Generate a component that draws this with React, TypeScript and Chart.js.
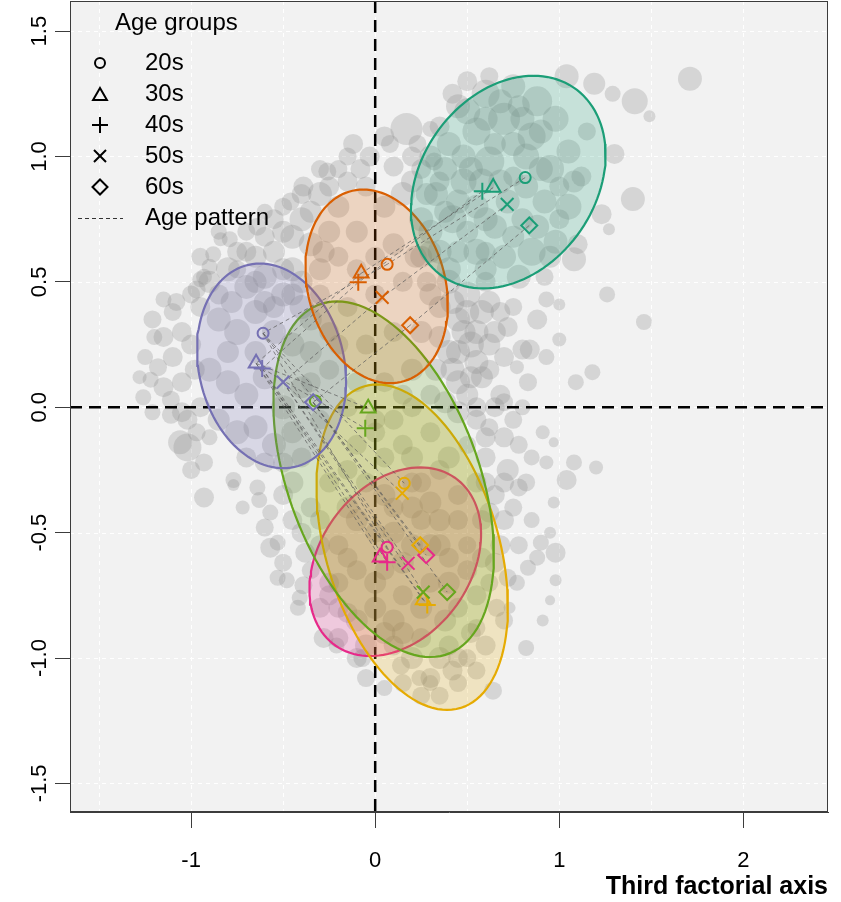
import React, { useEffect, useRef } from 'react';
import { Chart, registerables } from 'chart.js';

Chart.register(...registerables);

const FONT = "'Liberation Sans', Arial, Helvetica, sans-serif";

// ---- axes ----
const xMin = -1.658;
const xMax = 2.46;
const yMin = -1.614;
const yMax = 1.62;
const xTickStep = 1;
const yTickStep = 0.5;
const gridX = [-1.5, -1, -0.5, 0, 0.5, 1, 1.5, 2];
const gridY = [-1.5, -1, -0.5, 0, 0.5, 1, 1.5];
const xTitle = 'Third factorial axis';

// ---- legend / age groups ----
const legendTitle = 'Age groups';
const ageLabels = ['20s', '30s', '40s', '50s', '60s'];
const ageStyles = ['circle', 'triangle', 'cross', 'crossRot', 'rectRot'];
const ageRadii = [5.5, 8.5, 8.5, 9, 8];
const patternLabel = 'Age pattern';

// ---- groups (teal, orange, purple, green, yellow, pink) ----
const groupColors = ['#1b9e77', '#d95f02', '#7570b3', '#66a61e', '#e6ab02', '#e7298a'];

// age-group centroids (20s, 30s, 40s, 50s, 60s)
const tealX = [0.815, 0.641, 0.582, 0.717, 0.837];
const tealY = [0.916, 0.876, 0.861, 0.809, 0.725];
const orangeX = [0.065, -0.076, -0.092, 0.038, 0.19];
const orangeY = [0.57, 0.534, 0.498, 0.438, 0.327];
const purpleX = [-0.609, -0.647, -0.614, -0.5, -0.337];
const purpleY = [0.295, 0.175, 0.155, 0.1, 0.02];
const greenX = [-0.325, -0.038, -0.054, 0.261, 0.391];
const greenY = [0.025, -0.004, -0.084, -0.737, -0.737];
const yellowX = [0.158, 0.261, 0.283, 0.147, 0.245];
const yellowY = [-0.303, -0.769, -0.789, -0.343, -0.55];
const pinkX = [0.065, 0.027, 0.065, 0.179, 0.277];
const pinkY = [-0.558, -0.598, -0.618, -0.622, -0.59];

const groupXs = [tealX, orangeX, purpleX, greenX, yellowX, pinkX];
const groupYs = [tealY, orangeY, purpleY, greenY, yellowY, pinkY];

// confidence ellipses: centre, top-point offset, horizontal half-chord (data units)
const ellCX = [0.723, 0.008, -0.563, 0.046, 0.201, 0.109];
const ellCY = [0.898, 0.482, 0.165, -0.287, -0.558, -0.616];
const ellUX = [0.136, -0.073, -0.063, -0.253, -0.19, 0.136];
const ellUY = [0.424, 0.386, 0.408, 0.709, 0.649, 0.376];
const ellHW = [0.511, 0.38, 0.4, 0.543, 0.484, 0.446];

// age-pattern links between groups (same age)
const ageLinks = [
  [0, 1],
  [1, 2],
  [2, 3],
  [2, 4],
  [2, 5],
];

// background individuals: [x, y, radius px]
const cloud: [number, number, number][] = [
  // upper-right cluster
  [0.45, 1.2, 12], [0.6, 1.25, 14], [0.75, 1.28, 12], [0.88, 1.22, 15], [0.98, 1.15, 13],
  [0.7, 1.15, 16], [0.55, 1.1, 14], [0.4, 1.05, 12], [0.85, 1.08, 14], [1.05, 1.02, 12],
  [1.12, 0.92, 10], [0.95, 0.95, 14], [0.62, 0.98, 15], [0.48, 0.9, 13], [0.33, 0.85, 12],
  [0.3, 0.7, 12], [0.42, 0.75, 14], [0.55, 0.8, 12], [0.75, 0.92, 10], [0.92, 0.82, 12],
  [1.05, 0.8, 13], [1.1, 0.65, 10], [0.98, 0.66, 12], [0.85, 0.62, 14], [0.7, 0.6, 12],
  [0.55, 0.62, 13], [0.4, 0.55, 12], [0.6, 0.5, 10], [0.78, 0.52, 12], [0.92, 0.52, 9],
  [0.25, 0.95, 10], [0.35, 1.12, 10], [0.22, 0.6, 11], [0.5, 1.3, 10], [1.15, 1.1, 9],
  [0.65, 0.72, 12], [0.8, 0.75, 11], [0.5, 0.7, 11], [0.38, 0.95, 12], [0.8, 1.15, 12],
  [0.65, 1.05, 11], [1.0, 0.88, 10], [0.28, 0.5, 10], [0.45, 0.62, 11],
  [0.5, 1.18, 13], [0.68, 1.22, 12], [0.82, 1.0, 13], [0.9, 1.1, 12], [0.58, 0.9, 13],
  [0.72, 0.82, 12], [0.88, 0.72, 12], [1.0, 0.75, 10], [0.35, 0.62, 12], [0.6, 0.62, 10],
  [0.48, 1.0, 12], [0.3, 1.0, 11], [0.95, 0.6, 11], [0.75, 0.68, 11], [1.08, 0.9, 11],
  [0.42, 1.25, 10], [0.62, 1.32, 9], [0.78, 1.2, 11],
  [0.52, 0.95, 12], [0.68, 0.9, 12], [0.82, 0.88, 12], [0.6, 0.75, 12], [0.45, 0.82, 12],
  [0.9, 0.95, 12], [0.75, 1.05, 12], [0.6, 1.15, 12], [0.28, 0.85, 11], [0.38, 0.78, 11],
  [0.2, 1.0, 10], [0.3, 0.62, 11],
  // upper-right outliers
  [1.04, 1.32, 12], [1.19, 1.29, 11], [1.29, 1.25, 8], [1.41, 1.22, 13], [1.49, 1.16, 6],
  [1.71, 1.31, 12], [1.3, 1.01, 10], [1.4, 0.83, 12], [1.23, 0.77, 10], [1.27, 0.71, 6],
  [1.08, 0.59, 12], [1.26, 0.45, 8], [1.46, 0.34, 8], [1.0, 0.41, 6], [0.84, 0.23, 10],
  [1.18, 0.14, 8], [1.09, 0.1, 8], [0.77, 0.16, 7],
  // between orange and teal
  [0.4, 0.5, 12], [0.5, 0.45, 13], [0.45, 0.35, 12], [0.58, 0.38, 12], [0.4, 0.22, 12],
  [0.52, 0.25, 13], [0.65, 0.3, 11], [0.45, 0.1, 12], [0.58, 0.12, 11], [0.7, 0.2, 10],
  [0.75, 0.4, 9], [0.88, 0.35, 10], [0.93, 0.2, 8], [0.83, 0.1, 9], [0.68, 0.05, 10],
  [0.93, 0.43, 8], [1.0, 0.27, 7], [0.8, 0.23, 10], [0.35, 0.4, 11], [0.33, 0.15, 11],
  [0.38, 0.02, 11], [0.55, 0.0, 10],
  [0.42, 0.42, 12], [0.48, 0.3, 12], [0.55, 0.18, 12], [0.62, 0.42, 11], [0.5, 0.05, 11],
  [0.62, 0.25, 11], [0.42, 0.15, 12], [0.72, 0.32, 10], [0.35, 0.28, 11], [0.45, -0.02, 11],
  [0.6, 0.55, 11], [0.5, 0.38, 12], [0.55, 0.3, 12], [0.45, 0.22, 12], [0.52, 0.12, 11],
  [0.62, 0.15, 10], [0.68, 0.38, 10],
  // upper-left band and around orange
  [0.17, 1.11, 16], [-0.12, 1.05, 10], [-0.26, 0.94, 9], [-0.39, 0.88, 10], [-0.46, 0.82, 9],
  [-0.64, 0.72, 9], [-0.79, 0.67, 8], [-0.88, 0.61, 8], [-0.93, 0.52, 8], [-0.97, 0.47, 9],
  [-0.03, 1.0, 10], [0.1, 0.96, 10], [0.23, 1.05, 9], [0.3, 1.11, 8], [-0.3, 0.85, 12],
  [-0.4, 0.75, 12], [-0.5, 0.7, 11], [-0.35, 0.65, 12], [-0.55, 0.62, 11], [-0.45, 0.55, 12],
  [-0.7, 0.62, 10], [-0.2, 0.8, 11], [-0.25, 0.7, 11], [-0.3, 0.55, 11], [-0.15, 0.9, 10],
  [0.15, 0.85, 12], [0.25, 0.75, 12], [0.2, 0.9, 11], [0.05, 0.8, 11], [-0.1, 0.7, 11],
  [0.1, 0.65, 11], [0.25, 0.6, 11], [0.3, 0.45, 11], [0.25, 0.3, 11], [0.2, 0.15, 11],
  [0.1, 0.3, 10], [-0.05, 0.25, 10], [-0.15, 0.4, 10], [0.0, 0.45, 10], [-0.1, 0.55, 10],
  [0.15, 0.5, 10], [0.3, 0.05, 10], [0.15, 0.05, 10], [-0.1, 0.1, 10], [0.35, 0.9, 10],
  [0.32, 0.98, 9], [-0.05, 0.88, 10], [0.0, 0.6, 10], [-0.2, 0.6, 10], [-0.2, 0.25, 10],
  [0.08, 1.05, 9], [-0.6, 0.78, 8], [-0.75, 0.55, 9],
  [-0.85, 0.45, 10], [-0.75, 0.62, 10], [-0.65, 0.6, 11], [-0.55, 0.75, 10], [-0.45, 0.68, 12],
  [-0.35, 0.78, 11], [-0.25, 0.88, 10], [-0.5, 0.55, 11], [-0.4, 0.5, 11], [-0.6, 0.42, 11],
  [-0.2, 0.95, 9], [-0.08, 0.95, 10], [0.05, 1.08, 10], [-0.35, 0.35, 11], [-0.28, 0.62, 11],
  [-0.95, 0.6, 9], [-0.85, 0.7, 8], [-0.7, 0.7, 9], [-0.6, 0.68, 10], [-0.5, 0.8, 9],
  [-0.4, 0.85, 10], [-0.3, 0.95, 9], [-0.15, 1.0, 9], [-0.65, 0.5, 11], [-0.55, 0.4, 11],
  [-0.45, 0.45, 11], [-0.78, 0.42, 11],
  // purple / left cluster
  [-0.9, 0.5, 11], [-0.8, 0.55, 12], [-0.7, 0.48, 12], [-0.6, 0.52, 12], [-0.5, 0.45, 12],
  [-0.4, 0.4, 12], [-0.85, 0.35, 12], [-0.75, 0.3, 13], [-0.65, 0.38, 12], [-0.55, 0.3, 12],
  [-0.45, 0.25, 12], [-0.35, 0.22, 11], [-0.9, 0.15, 12], [-0.8, 0.1, 12], [-0.7, 0.05, 12],
  [-0.6, 0.12, 12], [-0.5, 0.0, 12], [-0.4, 0.08, 11], [-0.85, -0.05, 11], [-0.75, -0.1, 12],
  [-0.65, -0.08, 12], [-0.55, -0.15, 12], [-0.45, -0.1, 11], [-0.3, -0.05, 10], [-0.7, -0.2, 10],
  [-0.6, -0.22, 10], [-0.25, 0.3, 10], [-0.3, 0.45, 10], [-1.0, 0.25, 10], [-1.05, 0.1, 10],
  [-0.95, 0.0, 10], [-1.1, 0.38, 9], [-0.95, 0.4, 10], [-1.15, 0.43, 8], [-1.21, 0.35, 9],
  [-1.15, 0.28, 10], [-1.18, 0.16, 9], [-1.22, 0.11, 8], [-1.26, 0.04, 8], [-1.21, -0.02, 8],
  [-1.11, 0.03, 9], [-0.84, 0.67, 7], [-0.9, 0.56, 8], [-0.95, 0.51, 8], [-0.65, 0.22, 11],
  [-0.8, 0.22, 11], [-0.35, 0.1, 10], [-0.25, 0.15, 10],
  [-1.05, 0.3, 10], [-1.1, 0.2, 10], [-1.15, 0.08, 10], [-1.05, -0.02, 10], [-1.0, 0.45, 9],
  [-1.08, 0.42, 9], [-1.25, 0.2, 8], [-0.98, 0.15, 10], [-1.0, -0.25, 9], [-1.2, 0.28, 8],
  [-1.28, 0.12, 7],
  // lower-left band
  [-1.11, -0.03, 9], [-1.02, -0.16, 14], [-0.9, -0.12, 8], [-0.93, -0.36, 10], [-0.77, -0.31, 6],
  [-0.72, -0.4, 7], [-0.64, -0.32, 8], [-0.57, -0.42, 8], [-0.53, -0.54, 8], [-0.5, -0.62, 9],
  [-0.53, -0.68, 8], [-0.42, -0.8, 8], [-0.39, -0.71, 9], [-0.28, -0.92, 10], [-0.21, -0.95, 8],
  [-0.07, -1.0, 9], [0.14, -1.03, 9], [0.24, -1.08, 8], [0.3, -1.1, 8], [-0.57, -0.56, 10],
  [-0.48, -0.69, 8], [-0.41, -0.76, 8], [-0.63, -0.37, 8], [-0.77, -0.29, 8], [-0.93, -0.22, 9],
  [-0.97, -0.1, 9], [-1.06, -0.14, 12], [-1.02, -0.05, 10], [-0.45, -0.3, 11], [-0.35, -0.4, 10],
  [-0.4, -0.5, 10], [-0.3, -0.55, 10], [-0.35, -0.65, 9], [-0.25, -0.7, 10], [-0.5, -0.22, 10],
  [-0.4, -0.2, 10],
  [-0.45, -0.45, 10], [-0.38, -0.58, 10], [-0.3, -0.8, 10], [-0.2, -0.8, 10], [-0.5, -0.35, 10],
  [-0.6, -0.48, 9],
  // lower cluster
  [-0.25, -0.3, 10], [-0.15, -0.4, 11], [-0.05, -0.3, 10], [0.05, -0.2, 10], [0.15, -0.15, 10],
  [0.3, -0.1, 10], [0.4, -0.2, 11], [0.25, -0.3, 10], [0.45, -0.35, 10], [0.35, -0.45, 11],
  [-0.2, -0.55, 10], [-0.1, -0.65, 10], [0.0, -0.5, 10], [0.1, -0.4, 10], [0.2, -0.55, 11],
  [0.4, -0.6, 10], [0.5, -0.55, 9], [0.3, -0.7, 10], [0.45, -0.8, 10], [0.15, -0.75, 10],
  [0.0, -0.8, 11], [-0.15, -0.82, 10], [-0.25, -0.75, 10], [-0.2, -0.92, 10], [-0.05, -0.95, 11],
  [0.1, -0.95, 10], [0.25, -0.92, 10], [0.4, -0.95, 10], [0.5, -1.0, 9], [0.3, -1.08, 10],
  [0.15, -1.1, 9], [0.45, -1.1, 9], [0.35, -0.25, 10], [0.5, -0.15, 9], [-0.3, -0.45, 10],
  [0.55, -0.75, 10], [0.55, -0.88, 9], [-0.1, -0.15, 10], [0.1, -0.05, 10], [0.2, -0.3, 10],
  [0.05, -0.65, 10], [0.25, -0.45, 10], [-0.05, -1.08, 9], [0.05, -1.12, 8], [0.35, -1.15, 9],
  [0.42, -1.05, 10],
  [-0.1, -0.45, 11], [0.05, -0.35, 11], [0.2, -0.2, 11], [0.3, -0.38, 11], [0.15, -0.62, 11],
  [0.35, -0.55, 11], [0.25, -0.8, 11], [0.4, -0.7, 11], [0.05, -0.9, 11], [-0.1, -0.85, 11],
  [0.2, -1.0, 11], [0.35, -1.0, 11], [0.45, -0.45, 10], [-0.2, -0.7, 10], [-0.1, -1.0, 10],
  [0.1, -0.85, 11], [0.5, -0.65, 10], [0.52, -0.9, 10], [0.25, -1.15, 9], [-0.15, -0.25, 10],
  [0.0, -0.1, 10], [0.05, 0.1, 10], [0.2, 0.0, 10], [-0.15, 0.0, 10], [0.0, -0.05, 10],
  [0.0, -0.7, 11], [-0.15, -0.6, 10], [0.3, -0.55, 11], [0.1, -0.5, 11], [0.2, -0.4, 11],
  [0.45, -1.0, 10], [0.38, -0.85, 11], [0.15, -0.9, 11],
  // right of the lower cluster
  [0.91, -0.1, 7], [1.08, -0.22, 8], [1.2, -0.24, 7], [1.04, -0.29, 10], [0.97, -0.38, 6],
  [0.93, -0.22, 7], [0.97, -0.14, 5], [0.95, -0.5, 6], [0.9, -0.54, 8], [0.98, -0.58, 10],
  [0.98, -0.69, 6], [0.95, -0.77, 5], [0.91, -0.85, 6], [0.82, -0.96, 8], [0.64, -1.13, 9],
  [0.83, -0.64, 8], [0.77, -0.7, 8], [0.73, -0.8, 6], [0.55, -0.05, 10], [0.62, -0.08, 9],
  [0.7, -0.12, 10], [0.78, -0.15, 9], [0.6, -0.2, 10], [0.72, -0.25, 11], [0.82, -0.3, 9],
  [0.65, -0.35, 10], [0.75, -0.4, 9], [0.85, -0.45, 8], [0.58, -0.45, 10], [0.68, -0.55, 10],
  [0.62, -0.7, 9], [0.7, -0.85, 9], [0.6, -0.95, 10], [0.55, -1.05, 9], [0.85, -0.2, 8],
  [0.8, 0.0, 8], [0.7, 0.02, 9],
  [0.6, -0.3, 10], [0.7, -0.45, 10], [0.78, -0.55, 9], [0.65, -0.62, 10], [0.72, -0.68, 9],
  [0.65, 0.0, 10], [0.78, -0.32, 9], [0.6, -0.12, 10], [0.55, -0.3, 10], [0.88, -0.6, 8],
  [0.62, -0.42, 10], [0.7, -0.3, 10], [0.75, -0.05, 9], [0.58, -0.6, 10], [0.66, -0.8, 9],
];

function hexToRgba(hex: string, a: number) {
  const n = parseInt(hex.slice(1), 16);
  return `rgba(${(n >> 16) & 255},${(n >> 8) & 255},${n & 255},${a})`;
}

function ellipsePoints(i: number) {
  const pts: { x: number; y: number }[] = [];
  const steps = 120;
  for (let k = 0; k <= steps; k++) {
    const t = (2 * Math.PI * k) / steps;
    pts.push({
      x: ellCX[i] + ellUX[i] * Math.cos(t) + ellHW[i] * Math.sin(t),
      y: ellCY[i] + ellUY[i] * Math.cos(t),
    });
  }
  return pts;
}

function drawSymbol(ctx: CanvasRenderingContext2D, style: string, x: number, y: number, r: number) {
  ctx.beginPath();
  if (style === 'circle') {
    ctx.arc(x, y, r, 0, Math.PI * 2);
  } else if (style === 'triangle') {
    ctx.moveTo(x, y - r);
    ctx.lineTo(x + r * 0.866, y + r * 0.5);
    ctx.lineTo(x - r * 0.866, y + r * 0.5);
    ctx.closePath();
  } else if (style === 'cross') {
    ctx.moveTo(x - r, y);
    ctx.lineTo(x + r, y);
    ctx.moveTo(x, y - r);
    ctx.lineTo(x, y + r);
  } else if (style === 'crossRot') {
    const d = r * 0.7071;
    ctx.moveTo(x - d, y - d);
    ctx.lineTo(x + d, y + d);
    ctx.moveTo(x + d, y - d);
    ctx.lineTo(x - d, y + d);
  } else if (style === 'rectRot') {
    ctx.moveTo(x, y - r);
    ctx.lineTo(x + r, y);
    ctx.lineTo(x, y + r);
    ctx.lineTo(x - r, y);
    ctx.closePath();
  }
  ctx.stroke();
}

const CLOUD_INDEX = 0;

const backgroundPlugin = {
  id: 'rBackground',
  beforeDatasetsDraw(chart: any) {
    const { ctx, chartArea: a, scales } = chart;
    ctx.save();
    ctx.fillStyle = '#f2f2f2';
    ctx.fillRect(a.left, a.top, a.right - a.left, a.bottom - a.top);
    ctx.strokeStyle = '#ffffff';
    ctx.lineWidth = 1;
    ctx.setLineDash([4, 4]);
    for (const v of gridX) {
      const p = Math.round(scales.x.getPixelForValue(v)) + 0.5;
      ctx.beginPath();
      ctx.moveTo(p, a.top);
      ctx.lineTo(p, a.bottom);
      ctx.stroke();
    }
    for (const v of gridY) {
      const p = Math.round(scales.y.getPixelForValue(v)) + 0.5;
      ctx.beginPath();
      ctx.moveTo(a.left, p);
      ctx.lineTo(a.right, p);
      ctx.stroke();
    }
    ctx.restore();
  },
  afterDatasetDraw(chart: any, args: any) {
    if (args.index !== CLOUD_INDEX) return;
    const { ctx, chartArea: a, scales } = chart;
    ctx.save();
    ctx.beginPath();
    ctx.rect(a.left, a.top, a.right - a.left, a.bottom - a.top);
    ctx.clip();
    ctx.strokeStyle = '#000000';
    ctx.lineWidth = 2.5;
    ctx.setLineDash([12, 7]);
    const x0 = scales.x.getPixelForValue(0);
    const y0 = scales.y.getPixelForValue(0);
    ctx.beginPath();
    ctx.moveTo(x0, a.top);
    ctx.lineTo(x0, a.bottom);
    ctx.stroke();
    ctx.beginPath();
    ctx.moveTo(a.left, y0);
    ctx.lineTo(a.right, y0);
    ctx.stroke();
    ctx.restore();
  },
  afterDraw(chart: any) {
    const { ctx, chartArea: a, scales } = chart;
    ctx.save();
    // frame
    ctx.strokeStyle = '#3c3c3c';
    ctx.lineWidth = 1;
    ctx.strokeRect(a.left + 0.5, a.top + 0.5, a.right - a.left - 1, a.bottom - a.top - 1);
    // y tick labels (rotated, R style)
    ctx.fillStyle = '#000';
    ctx.font = `22px ${FONT}`;
    ctx.textAlign = 'center';
    ctx.textBaseline = 'middle';
    for (const t of scales.y.ticks) {
      const py = scales.y.getPixelForValue(t.value);
      ctx.save();
      ctx.translate(a.left - 30, py);
      ctx.rotate(-Math.PI / 2);
      ctx.fillText(Number(t.value).toFixed(1), 0, 0);
      ctx.restore();
    }
    // legend
    const lx = a.left;
    const ly = a.top;
    ctx.textAlign = 'left';
    ctx.font = `24px ${FONT}`;
    ctx.fillText(legendTitle, lx + 45, ly + 22);
    ctx.strokeStyle = '#000';
    ctx.lineWidth = 2;
    ageLabels.forEach((lab, i) => {
      const yy = ly + 62 + i * 31;
      drawSymbol(ctx, ageStyles[i], lx + 30, yy + (ageStyles[i] === 'triangle' ? 2 : 0), ageRadii[i] - 0.5);
      ctx.fillText(lab, lx + 75, yy);
    });
    const py2 = ly + 217;
    ctx.lineWidth = 1;
    ctx.strokeStyle = '#333';
    ctx.setLineDash([4, 3]);
    ctx.beginPath();
    ctx.moveTo(lx + 8, py2 + 0.5);
    ctx.lineTo(lx + 53, py2 + 0.5);
    ctx.stroke();
    ctx.setLineDash([]);
    ctx.fillText(patternLabel, lx + 75, py2);
    ctx.restore();
  },
};

export default function App() {
  const ref = useRef<HTMLCanvasElement | null>(null);

  useEffect(() => {
    document.body.style.margin = '0';
    const canvas = ref.current;
    if (!canvas) return;

    const datasets: any[] = [];
    datasets.push({
      type: 'bubble',
      data: cloud.map(([x, y, r]) => ({ x, y, r })),
      backgroundColor: 'rgba(140,140,140,0.28)',
      borderWidth: 0,
      order: 10,
    });
    groupColors.forEach((c, i) => {
      datasets.push({
        type: 'scatter',
        data: ellipsePoints(i),
        showLine: true,
        fill: 'shape',
        borderColor: c,
        backgroundColor: hexToRgba(c, 0.2),
        borderWidth: 2.2,
        pointRadius: 0,
        tension: 0,
        order: 5,
      });
    });
    ageLabels.forEach((_, a) => {
      ageLinks.forEach(([g1, g2]) => {
        datasets.push({
          type: 'scatter',
          data: [
            { x: groupXs[g1][a], y: groupYs[g1][a] },
            { x: groupXs[g2][a], y: groupYs[g2][a] },
          ],
          showLine: true,
          fill: false,
          borderColor: 'rgba(90,90,90,0.7)',
          borderWidth: 1,
          borderDash: [4, 3],
          pointRadius: 0,
          order: 2,
        });
      });
    });
    groupColors.forEach((c, i) => {
      datasets.push({
        type: 'scatter',
        data: groupXs[i].map((x, k) => ({ x, y: groupYs[i][k] })),
        showLine: false,
        pointStyle: ageStyles,
        pointRadius: ageRadii,
        pointBorderWidth: 2,
        pointBorderColor: c,
        pointBackgroundColor: 'rgba(0,0,0,0)',
        order: 0,
      });
    });

    const chart = new Chart(canvas, {
      type: 'scatter',
      data: { datasets },
      options: {
        responsive: false,
        animation: false,
        events: [],
        layout: { autoPadding: false, padding: { top: 1, right: 13, left: 0, bottom: 0 } },
        plugins: { legend: { display: false }, tooltip: { enabled: false } },
        scales: {
          x: {
            type: 'linear',
            position: 'bottom',
            min: xMin,
            max: xMax,
            afterFit: (s: any) => {
              s.height = 90;
              s.paddingLeft = 0;
              s.paddingRight = 0;
            },
            ticks: {
              stepSize: xTickStep,
              includeBounds: false,
              color: '#000',
              padding: 20,
              font: { family: FONT, size: 22 },
            },
            grid: {
              drawOnChartArea: false,
              drawTicks: true,
              tickLength: 16,
              tickColor: '#3c3c3c',
              tickWidth: 1,
            },
            border: { display: true, color: '#3c3c3c', width: 1 },
            title: {
              display: true,
              text: xTitle,
              align: 'end',
              color: '#000',
              font: { family: FONT, size: 25, weight: 'bold' },
              padding: { top: 0, bottom: 0 },
            },
          },
          y: {
            type: 'linear',
            min: yMin,
            max: yMax,
            afterFit: (s: any) => {
              s.width = 70;
              s.paddingTop = 0;
              s.paddingBottom = 0;
            },
            ticks: { stepSize: yTickStep, includeBounds: false, display: false },
            grid: {
              drawOnChartArea: false,
              drawTicks: true,
              tickLength: 15,
              tickColor: '#3c3c3c',
              tickWidth: 1,
            },
            border: { display: true, color: '#3c3c3c', width: 1 },
          },
        },
      } as any,
      plugins: [backgroundPlugin],
    });

    return () => chart.destroy();
  }, []);

  return (
    <div style={{ position: 'absolute', left: 0, top: 0, width: 841, height: 902 }}>
      <canvas ref={ref} width={841} height={902} style={{ width: 841, height: 902, display: 'block' }} />
    </div>
  );
}
